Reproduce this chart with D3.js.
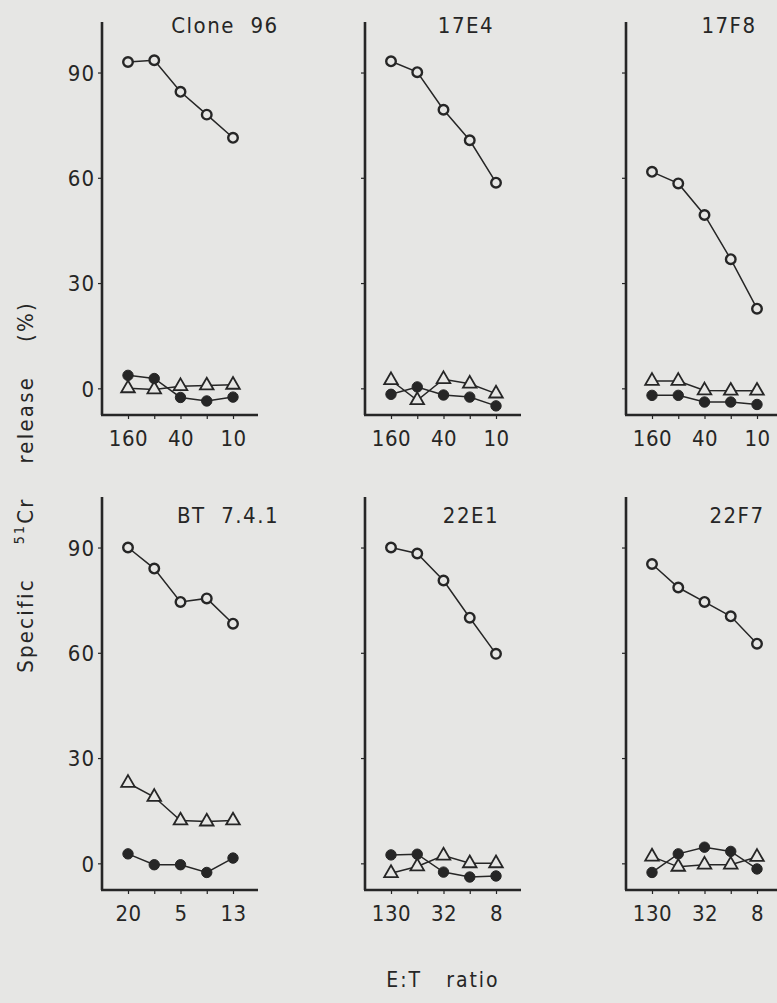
<!DOCTYPE html>
<html>
<head>
<meta charset="utf-8">
<script src="https://cdn.jsdelivr.net/npm/d3@7"></script>
<style>
  html, body { margin: 0; padding: 0; background: #e6e6e4; }
  svg { display: block; }
  text { font-family: "DejaVu Sans Condensed", "DejaVu Sans", sans-serif; fill: #262626; white-space: pre; }
</style>
</head>
<body>
<div id="chart"></div>
<script>
// panel names, read row by row
const panelNames = ["Clone 96", "17E4", "17F8", "BT 7.4.1", "22E1", "22F7"];

// E:T tick labels (5 dilutions, labelled every other one)
const xTickLabels = [
  ["160", "", "40", "", "10"],
  ["160", "", "40", "", "10"],
  ["160", "", "40", "", "10"],
  ["20", "", "5", "", "13"],
  ["130", "", "32", "", "8"],
  ["130", "", "32", "", "8"]
];

const yTicks = [0, 30, 60, 90];

// open circles
const openCircle = [
  [93, 93.5, 84.5, 78, 71.4],
  [93.2, 90.1, 79.4, 70.7, 58.6],
  [61.7, 58.4, 49.4, 36.8, 22.7],
  [90, 84, 74.5, 75.5, 68.3],
  [90, 88.3, 80.6, 70, 59.7],
  [85.3, 78.6, 74.5, 70.4, 62.6]
];

// filled circles
const filledCircle = [
  [3.7, 2.8, -2.6, -3.6, -2.5],
  [-1.7, 0.4, -1.9, -2.5, -5],
  [-2, -2, -3.9, -3.9, -4.6],
  [2.7, -0.4, -0.4, -2.6, 1.5],
  [2.4, 2.6, -2.5, -3.9, -3.6],
  [-2.6, 2.7, 4.6, 3.4, -1.6]
];

// open triangles
const triangle = [
  [0, -0.3, 0.6, 0.8, 1.0],
  [2.3, -3.4, 2.6, 1.3, -1.5],
  [2.1, 2.1, -0.6, -0.7, -0.7],
  [22.9, 18.9, 12.2, 11.9, 12.2],
  [-2.8, -0.9, 2.2, 0, 0],
  [1.9, -1, -0.4, -0.4, 1.8]
];

const width = 777;
const height = 1003;
const ink = "#262626";
const paper = "#e6e6e4";

const colX = [102, 365, 626];
const rowTop = [22, 497];
const rowBottom = [415, 890];

const svg = d3.select("#chart")
  .append("svg")
  .attr("width", width)
  .attr("height", height);

svg.append("rect").attr("width", width).attr("height", height).attr("fill", paper);

panelNames.forEach((name, p) => {
  const row = Math.floor(p / 3);
  const col = p % 3;
  const ax = colX[col];

  const x = d3.scalePoint()
    .domain(d3.range(5))
    .range([ax + 26, ax + 131]);

  const y = d3.scaleLinear()
    .domain([-7.6, 104.4])
    .range([rowBottom[row], rowTop[row]]);

  const g = svg.append("g");

  // y axis
  g.append("g")
    .attr("transform", `translate(${ax},0)`)
    .call(d3.axisLeft(y).tickValues(yTicks).tickSize(4).tickSizeOuter(0)
      .tickFormat(d => col === 0 ? d : ""))
    .call(s => s.select(".domain").remove())
    .call(s => s.selectAll("line").attr("stroke", ink).attr("stroke-width", 1.2))
    .call(s => s.selectAll("text").attr("font-size", 22).attr("letter-spacing", 1)
      .attr("x", -7).attr("dy", "0.36em").attr("fill", ink).attr("font-family", null));

  // x axis ticks
  g.append("g")
    .attr("transform", `translate(0,${rowBottom[row]})`)
    .call(d3.axisBottom(x).tickSize(4).tickSizeOuter(0).tickFormat(i => xTickLabels[p][i]))
    .call(s => s.select(".domain").remove())
    .call(s => s.selectAll("line").attr("stroke", ink).attr("stroke-width", 1.2))
    .call(s => s.selectAll("text").attr("font-size", 22).attr("letter-spacing", 0.5)
      .attr("y", 15).attr("fill", ink).attr("font-family", null));

  // axis frame lines
  g.append("line")
    .attr("x1", ax).attr("x2", ax)
    .attr("y1", y.range()[1]).attr("y2", y.range()[0])
    .attr("stroke", ink).attr("stroke-width", 2.6);
  g.append("line")
    .attr("x1", ax - 1).attr("x2", x.range()[1] + 25)
    .attr("y1", y.range()[0]).attr("y2", y.range()[0])
    .attr("stroke", ink).attr("stroke-width", 2.6);

  // panel title
  const tx = [225, 466, 729, 228, 471, 737][p];
  g.append("text")
    .attr("x", tx)
    .attr("y", y.range()[1] + (row === 0 ? 11 : 26))
    .attr("text-anchor", "middle")
    .attr("font-size", 22)
    .attr("letter-spacing", 1.5)
    .text(name.replace(" ", "  "));

  const line = d3.line().x((d, i) => x(i)).y(d => y(d));

  const series = [
    { vals: triangle[p], kind: "tri" },
    { vals: filledCircle[p], kind: "dot" },
    { vals: openCircle[p], kind: "open" }
  ];

  series.forEach(s => {
    g.append("path")
      .attr("d", line(s.vals))
      .attr("fill", "none")
      .attr("stroke", ink)
      .attr("stroke-width", 1.5);
  });

  series.forEach(s => {
    const m = g.append("g").selectAll("path")
      .data(s.vals)
      .join("path")
      .attr("transform", (d, i) => `translate(${x(i)},${y(d)})`);
    if (s.kind === "tri") {
      m.attr("d", d3.symbol(d3.symbolTriangle, 80))
        .attr("fill", paper).attr("stroke", ink).attr("stroke-width", 1.8);
    } else if (s.kind === "dot") {
      m.attr("d", d3.symbol(d3.symbolCircle, 85))
        .attr("fill", ink).attr("stroke", ink).attr("stroke-width", 1);
    } else {
      m.attr("d", d3.symbol(d3.symbolCircle, 72))
        .attr("fill", paper).attr("stroke", ink).attr("stroke-width", 2.4);
    }
  });
});

// y axis title
const yLab = svg.append("text")
  .attr("transform", "translate(33,487) rotate(-90)")
  .attr("text-anchor", "middle")
  .attr("font-size", 22)
  .attr("letter-spacing", 2.2);
yLab.append("tspan").text("Specific    ");
yLab.append("tspan").attr("font-size", 14).attr("dy", -9).text("51");
yLab.append("tspan").attr("dy", 9).text("Cr    release    (%)");

// x axis title
svg.append("text")
  .attr("x", 443)
  .attr("y", 987)
  .attr("text-anchor", "middle")
  .attr("font-size", 21)
  .attr("letter-spacing", 2)
  .text("E:T   ratio");
</script>
</body>
</html>
